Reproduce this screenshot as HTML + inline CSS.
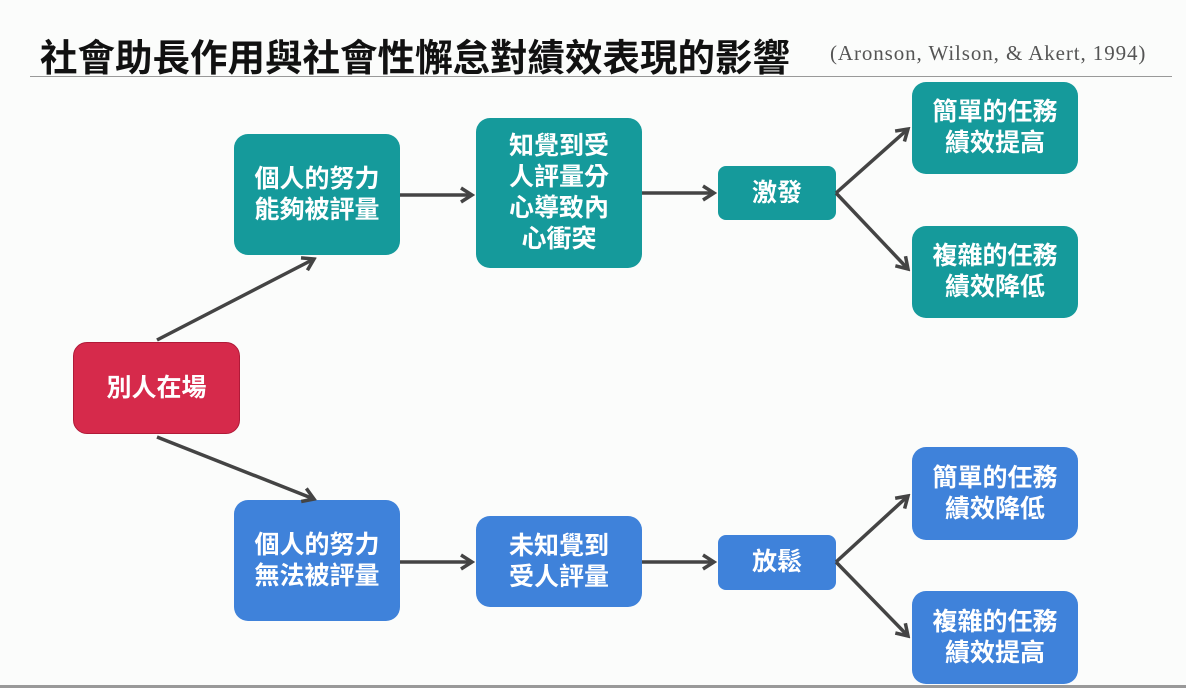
<!DOCTYPE html>
<html><head><meta charset="utf-8"><style>
body{margin:0;width:1186px;height:688px;background:#fbfcfb;position:relative;overflow:hidden;font-family:"Liberation Sans","Noto Sans CJK TC",sans-serif;}
.t{position:absolute;left:40px;top:27px;font-size:37.5px;font-weight:bold;color:#111;white-space:nowrap}
.c{position:absolute;left:830px;top:41px;font-family:"Liberation Serif",serif;font-size:21px;letter-spacing:0.9px;color:#555;white-space:nowrap}
.hl{position:absolute;left:30px;top:76px;width:1142px;height:1px;background:#999}
.bl{position:absolute;left:0;top:685px;width:1186px;height:3px;background:#999}
.b{position:absolute;display:flex;align-items:center;justify-content:center;text-align:center;color:#fff;font-weight:bold;font-size:25px;line-height:31px;border-radius:14px;box-sizing:border-box}
.g{background:#159a9b}.u{background:#3f82da}.r{background:#d62a4b;border:1px solid #b01a38}
svg{position:absolute;left:0;top:0}
</style></head><body>
<div class="t">社會助長作用與社會性懈怠對績效表現的影響</div>
<div class="c">(Aronson, Wilson, &amp; Akert, 1994)</div>
<div class="hl"></div>
<div class="b r" style="left:73px;top:342px;width:167px;height:92px">別人在場</div>
<div class="b g" style="left:234px;top:134px;width:166px;height:121px">個人的努力<br>能夠被評量</div>
<div class="b g" style="left:476px;top:118px;width:166px;height:150px">知覺到受<br>人評量分<br>心導致內<br>心衝突</div>
<div class="b g" style="left:718px;top:166px;width:118px;height:54px;border-radius:8px">激發</div>
<div class="b g" style="left:912px;top:82px;width:166px;height:92px">簡單的任務<br>績效提高</div>
<div class="b g" style="left:912px;top:226px;width:166px;height:92px">複雜的任務<br>績效降低</div>
<div class="b u" style="left:234px;top:500px;width:166px;height:121px">個人的努力<br>無法被評量</div>
<div class="b u" style="left:476px;top:516px;width:166px;height:91px">未知覺到<br>受人評量</div>
<div class="b u" style="left:718px;top:535px;width:118px;height:55px;border-radius:8px">放鬆</div>
<div class="b u" style="left:912px;top:447px;width:166px;height:93px">簡單的任務<br>績效降低</div>
<div class="b u" style="left:912px;top:591px;width:166px;height:93px">複雜的任務<br>績效提高</div>
<svg width="1186" height="688"><defs><marker id="a" markerWidth="16" markerHeight="18" refX="13" refY="9" orient="auto" markerUnits="userSpaceOnUse"><path d="M2,2 L13,9 L2,16" fill="none" stroke="#444" stroke-width="3.5"/></marker></defs>
<g stroke="#444" stroke-width="3.5" fill="none" marker-end="url(#a)">
<line x1="157" y1="340" x2="314" y2="259"/>
<line x1="157" y1="437" x2="314" y2="499"/>
<line x1="400" y1="195" x2="472" y2="195"/>
<line x1="642" y1="193" x2="714" y2="193"/>
<line x1="836" y1="193" x2="908" y2="129"/>
<line x1="836" y1="193" x2="908" y2="269"/>
<line x1="400" y1="562" x2="472" y2="562"/>
<line x1="642" y1="562" x2="714" y2="562"/>
<line x1="836" y1="562" x2="908" y2="496"/>
<line x1="836" y1="562" x2="908" y2="636"/>
</g></svg>
<div class="bl"></div>
</body></html>
